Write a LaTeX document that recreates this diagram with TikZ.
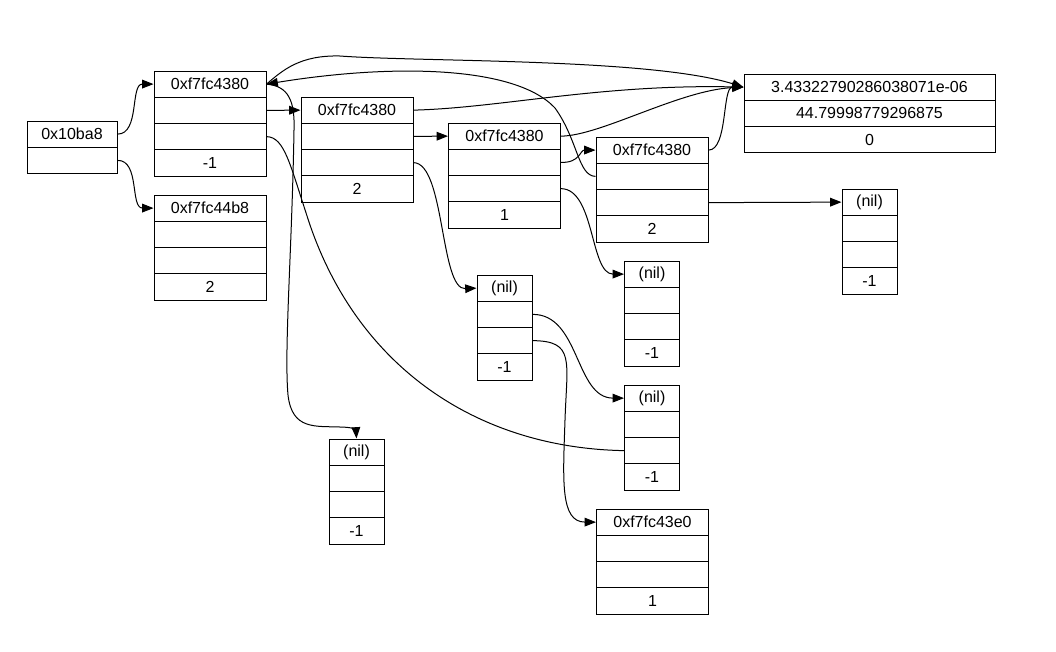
\documentclass[tikz,border=0pt]{standalone}
\usepackage{fontspec}
\setmainfont{Liberation Sans}
\usepackage{tikz}
\usetikzlibrary{shapes,arrows,arrows.meta,positioning,calc}

% one record = a column of cells, named <name>-0, <name>-1, ...
\newcommand{\record}[5]{%
  \foreach \lab [count=\i from 0] in {#5} {
    \node[cell, minimum width=#4] (#1-\i) at (#2, #3+26.25*\i+13.125) {\lab};
  }}

\begin{document}
\begin{tikzpicture}[x=0.75pt, y=-0.75pt,
    cell/.style={draw, rectangle, inner sep=0pt, minimum height=19.69pt,
                 line width=0.75pt, font=\fontsize{12}{14}\selectfont},
    ptr/.style={line width=0.75pt, -{Triangle[length=8.5pt,width=6.5pt]}},
    link/.style={line width=0.75pt}]
    \useasboundingbox (0,0) rectangle (1056,651);

    % records
    \record{root}{72}{121}{67.5pt}{0x10ba8,{}}
    \record{n1}{210}{71}{84pt}{0xf7fc4380,{},{},-1}
    \record{n2}{210}{195}{84pt}{0xf7fc44b8,{},{},2}
    \record{n3}{357}{97}{84pt}{0xf7fc4380,{},{},2}
    \record{n4}{504.5}{123}{84pt}{0xf7fc4380,{},{},1}
    \record{n5}{652}{137}{84pt}{0xf7fc4380,{},{},2}
    \record{data}{869.5}{74}{188.25pt}{3.43322790286038071e-06,44.79998779296875,0}
    \record{nil1}{869.5}{189}{41.25pt}{(nil),{},{},-1}
    \record{nil2}{652}{261}{41.25pt}{(nil),{},{},-1}
    \record{nil3}{504.5}{275}{41.25pt}{(nil),{},{},-1}
    \record{nil4}{652}{385}{41.25pt}{(nil),{},{},-1}
    \record{nil5}{356.5}{439}{41.25pt}{(nil),{},{},-1}
    \record{n6}{652.5}{509}{84pt}{0xf7fc43e0,{},{},1}

    % pointers
    \draw[ptr] (root-0.east) .. controls (140,134) and (130,84) .. (n1-0.west);
    \draw[ptr] (root-1.east) .. controls (140,160) and (130,208) .. (n2-0.west);
    \draw[ptr] (n1-1.east) -- (n3-0.west);
    \draw[ptr] (n3-1.east) -- (n4-0.west);
    \draw[ptr] (n4-1.east) .. controls (580,163) and (580,150) .. (n5-0.west);
    \draw[ptr] (n5-2.east) -- (nil1-0.west);
    \draw[ptr] (n3-2.east) .. controls (445,163) and (440,290) .. (nil3-0.west);
    \draw[ptr] (n4-2.east) .. controls (595,189) and (590,274) .. (nil2-0.west);
    \draw[ptr] (nil3-1.east) .. controls (580,314) and (575,398) .. (nil4-0.west);
    \draw[ptr] (nil3-2.east) .. controls (575,341) and (567,360) .. (565,420)
        .. controls (563,480) and (560,522) .. (n6-0.west);
    \draw[ptr] (n5-1.west) .. controls (578,176) and (578,140) .. (555,108)
        .. controls (515,65) and (390,64) .. (n1-0.east);
    \draw[ptr] (n1-0.east) .. controls (283,70) and (300,55) .. (340,56)
        .. controls (420,62) and (650,58) .. (data-0.west);
    \draw[ptr] (n1-0.east) .. controls (288,86) and (295,100) .. (294,130)
        .. controls (292,250) and (284,350) .. (288,395)
        .. controls (292,430) and (315,426) .. (340,427)
        .. controls (352,427) and (356,430) .. (nil5-0.north);
    \draw[link] (n1-2.east) .. controls (285,137) and (290,165) .. (310,225)
        .. controls (360,370) and (480,448) .. (nil4-2.west);
    \draw[ptr] (n3-0.east) .. controls (500,108) and (600,84) .. (data-0.west);
    \draw[ptr] (n4-0.east) .. controls (600,136) and (680,90) .. (data-0.west);
    \draw[ptr] (n5-0.east) .. controls (728,150) and (722,87) .. (data-0.west);
\end{tikzpicture}
\end{document}
